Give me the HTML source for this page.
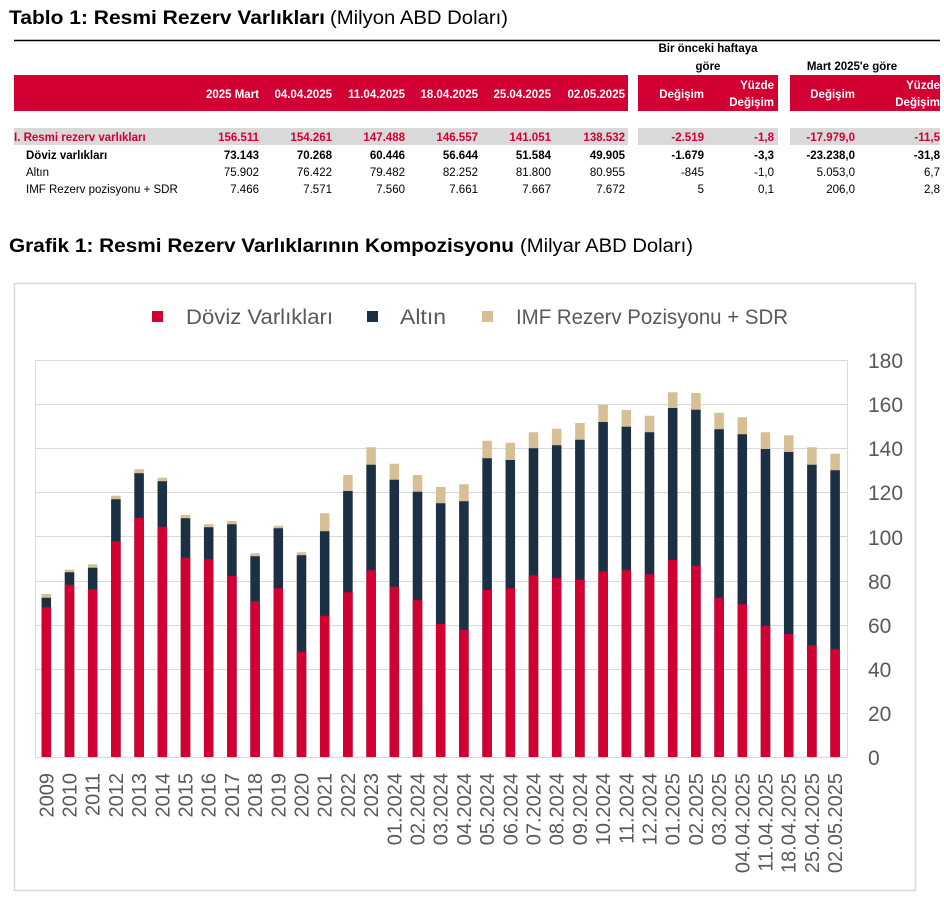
<!DOCTYPE html>
<html><head><meta charset="utf-8"><style>
html,body{margin:0;padding:0;background:#fff;}
svg{display:block;font-family:"Liberation Sans",sans-serif;}
</style></head><body>
<svg width="944" height="902" viewBox="0 0 944 902" xmlns="http://www.w3.org/2000/svg">
<text x="9" y="24" font-size="19" font-weight="bold" fill="#000" textLength="316" lengthAdjust="spacingAndGlyphs">Tablo 1: Resmi Rezerv Varlıkları</text>
<text x="330" y="24" font-size="19" fill="#000" textLength="178" lengthAdjust="spacingAndGlyphs">(Milyon ABD Doları)</text>
<line x1="14" y1="40.5" x2="940" y2="40.5" stroke="#000" stroke-width="1.5"/>
<g font-size="11.5" font-weight="bold" fill="#000" text-anchor="middle">
<text x="708" y="52">Bir önceki haftaya</text>
<text x="708" y="70">göre</text>
<text x="852" y="70">Mart 2025'e göre</text>
</g>
<rect x="14" y="75" width="614" height="36" fill="#D20032"/>
<rect x="638" y="75" width="140" height="36" fill="#D20032"/>
<rect x="790" y="75" width="150" height="36" fill="#D20032"/>
<g font-size="11.5" font-weight="bold" fill="#fff" text-anchor="end">
<text x="259" y="98">2025 Mart</text>
<text x="332" y="98">04.04.2025</text>
<text x="405" y="98">11.04.2025</text>
<text x="478" y="98">18.04.2025</text>
<text x="551" y="98">25.04.2025</text>
<text x="625" y="98">02.05.2025</text>
<text x="704" y="98">Değişim</text>
<text x="774" y="89">Yüzde</text>
<text x="774" y="106">Değişim</text>
<text x="855" y="98">Değişim</text>
<text x="940" y="89">Yüzde</text>
<text x="940" y="106">Değişim</text>
</g>
<rect x="14" y="128" width="614" height="17" fill="#D9D9D9"/>
<rect x="638" y="128" width="140" height="17" fill="#D9D9D9"/>
<rect x="790" y="128" width="150" height="17" fill="#D9D9D9"/>
<g font-size="11.5" text-anchor="end">
<g fill="#D20032" font-weight="bold">
<text x="14" y="141" text-anchor="start">I. Resmi rezerv varlıkları</text>
<text x="259" y="141">156.511</text><text x="332" y="141">154.261</text><text x="405" y="141">147.488</text><text x="478" y="141">146.557</text><text x="551" y="141">141.051</text><text x="625" y="141">138.532</text><text x="704" y="141">-2.519</text><text x="774" y="141">-1,8</text><text x="855" y="141">-17.979,0</text><text x="940" y="141">-11,5</text>
</g>
<g fill="#000" font-weight="bold">
<text x="26" y="159" text-anchor="start">Döviz varlıkları</text>
<text x="259" y="159">73.143</text><text x="332" y="159">70.268</text><text x="405" y="159">60.446</text><text x="478" y="159">56.644</text><text x="551" y="159">51.584</text><text x="625" y="159">49.905</text><text x="704" y="159">-1.679</text><text x="774" y="159">-3,3</text><text x="855" y="159">-23.238,0</text><text x="940" y="159">-31,8</text>
</g>
<g fill="#000">
<text x="26" y="176" text-anchor="start">Altın</text>
<text x="259" y="176">75.902</text><text x="332" y="176">76.422</text><text x="405" y="176">79.482</text><text x="478" y="176">82.252</text><text x="551" y="176">81.800</text><text x="625" y="176">80.955</text><text x="704" y="176">-845</text><text x="774" y="176">-1,0</text><text x="855" y="176">5.053,0</text><text x="940" y="176">6,7</text>
<text x="26" y="193" text-anchor="start">IMF Rezerv pozisyonu + SDR</text>
<text x="259" y="193">7.466</text><text x="332" y="193">7.571</text><text x="405" y="193">7.560</text><text x="478" y="193">7.661</text><text x="551" y="193">7.667</text><text x="625" y="193">7.672</text><text x="704" y="193">5</text><text x="774" y="193">0,1</text><text x="855" y="193">206,0</text><text x="940" y="193">2,8</text>
</g>
</g>
<text x="9" y="252" font-size="19" font-weight="bold" fill="#000" textLength="505" lengthAdjust="spacingAndGlyphs">Grafik 1: Resmi Rezerv Varlıklarının Kompozisyonu</text>
<text x="520" y="252" font-size="19" fill="#000" textLength="173" lengthAdjust="spacingAndGlyphs">(Milyar ABD Doları)</text>
<rect x="14.5" y="283.5" width="901" height="607" fill="#fff" stroke="#D9D9D9" stroke-width="1.5"/>
<rect x="152" y="311" width="11" height="11" fill="#D20032"/>
<text x="186" y="324" font-size="21" fill="#595959" textLength="147" lengthAdjust="spacingAndGlyphs">Döviz Varlıkları</text>
<rect x="367" y="311" width="11" height="11" fill="#1B2F45"/>
<text x="400" y="324" font-size="21" fill="#595959" textLength="46" lengthAdjust="spacingAndGlyphs">Altın</text>
<rect x="482" y="311" width="11" height="11" fill="#D6BE95"/>
<text x="516" y="324" font-size="21" fill="#595959" textLength="272" lengthAdjust="spacingAndGlyphs">IMF Rezerv Pozisyonu + SDR</text>
<g stroke="#D9D9D9" stroke-width="1">
<line x1="35" y1="360.5" x2="847" y2="360.5"/>
<line x1="35" y1="404.5" x2="847" y2="404.5"/>
<line x1="35" y1="448.5" x2="847" y2="448.5"/>
<line x1="35" y1="492.5" x2="847" y2="492.5"/>
<line x1="35" y1="536.5" x2="847" y2="536.5"/>
<line x1="35" y1="581.5" x2="847" y2="581.5"/>
<line x1="35" y1="625.5" x2="847" y2="625.5"/>
<line x1="35" y1="669.5" x2="847" y2="669.5"/>
<line x1="35" y1="713.5" x2="847" y2="713.5"/>
<line x1="35" y1="757.5" x2="847" y2="757.5"/>
<line x1="35.5" y1="360" x2="35.5" y2="757"/>
<line x1="847.5" y1="360" x2="847.5" y2="757"/>
</g>
<g font-size="21" fill="#595959">
<text x="868" y="368">180</text><text x="868" y="412">160</text><text x="868" y="456">140</text><text x="868" y="500">120</text><text x="868" y="545">100</text>
<text x="868" y="589">80</text><text x="868" y="633">60</text><text x="868" y="677">40</text><text x="868" y="721">20</text><text x="868" y="765">0</text>
</g>
<g fill="none" stroke-width="9.5">
<path stroke="#D6BE95" d="M46.3 757V594M69.5 757V569.7M92.7 757V564.3M115.9 757V495.7M139.1 757V469.3M162.3 757V477.7M185.5 757V515M208.7 757V524.3M231.9 757V521M255.1 757V553.3M278.3 757V525.7M301.5 757V552.3M324.7 757V513.3M347.9 757V475M371.1 757V447.3M394.3 757V463.7M417.5 757V475M440.7 757V487M463.9 757V484.3M487.1 757V440.7M510.3 757V442.7M533.5 757V432.3M556.7 757V428.7M579.9 757V423M603.1 757V405M626.3 757V410M649.5 757V415.7M672.7 757V392.3M695.9 757V393M719.1 757V412.7M742.3 757V417.3M765.5 757V432.3M788.7 757V435.3M811.9 757V447.3M835.1 757V453.7"/>
<path stroke="#1B2F45" d="M46.3 757V597.7M69.5 757V572.3M92.7 757V567.7M115.9 757V499.3M139.1 757V473.3M162.3 757V481.3M185.5 757V518.3M208.7 757V527.3M231.9 757V524.3M255.1 757V556.3M278.3 757V528.3M301.5 757V555.3M324.7 757V531.3M347.9 757V491M371.1 757V464.7M394.3 757V479.7M417.5 757V491.7M440.7 757V503.3M463.9 757V501.3M487.1 757V458.3M510.3 757V460M533.5 757V448.3M556.7 757V445.3M579.9 757V439.7M603.1 757V422M626.3 757V426.7M649.5 757V432.3M672.7 757V408M695.9 757V409.7M719.1 757V429.3M742.3 757V434.3M765.5 757V449M788.7 757V452M811.9 757V464.7M835.1 757V470.3"/>
<path stroke="#D20032" d="M46.3 757V607.3M69.5 757V584.7M92.7 757V589.3M115.9 757V541.3M139.1 757V518M162.3 757V526.7M185.5 757V557.7M208.7 757V559.3M231.9 757V576M255.1 757V601.3M278.3 757V588.3M301.5 757V651.7M324.7 757V615.7M347.9 757V592.3M371.1 757V570.3M394.3 757V586.7M417.5 757V600.3M440.7 757V624M463.9 757V629.7M487.1 757V590M510.3 757V588.3M533.5 757V575.3M556.7 757V578M579.9 757V579.7M603.1 757V571.3M626.3 757V570.3M649.5 757V574.3M672.7 757V560M695.9 757V565.7M719.1 757V597.7M742.3 757V604.3M765.5 757V625.7M788.7 757V634M811.9 757V645.3M835.1 757V649.3"/>
</g>
<g font-size="20" fill="#595959" text-anchor="end">
<text transform="translate(53.3,773) rotate(-90)">2009</text>
<text transform="translate(76.5,773) rotate(-90)">2010</text>
<text transform="translate(99.7,773) rotate(-90)">2011</text>
<text transform="translate(122.9,773) rotate(-90)">2012</text>
<text transform="translate(146.1,773) rotate(-90)">2013</text>
<text transform="translate(169.3,773) rotate(-90)">2014</text>
<text transform="translate(192.5,773) rotate(-90)">2015</text>
<text transform="translate(215.7,773) rotate(-90)">2016</text>
<text transform="translate(238.9,773) rotate(-90)">2017</text>
<text transform="translate(262.1,773) rotate(-90)">2018</text>
<text transform="translate(285.3,773) rotate(-90)">2019</text>
<text transform="translate(308.5,773) rotate(-90)">2020</text>
<text transform="translate(331.7,773) rotate(-90)">2021</text>
<text transform="translate(354.9,773) rotate(-90)">2022</text>
<text transform="translate(378.1,773) rotate(-90)">2023</text>
<text transform="translate(401.3,773) rotate(-90)">01.2024</text>
<text transform="translate(424.5,773) rotate(-90)">02.2024</text>
<text transform="translate(447.7,773) rotate(-90)">03.2024</text>
<text transform="translate(470.9,773) rotate(-90)">04.2024</text>
<text transform="translate(494.1,773) rotate(-90)">05.2024</text>
<text transform="translate(517.3,773) rotate(-90)">06.2024</text>
<text transform="translate(540.5,773) rotate(-90)">07.2024</text>
<text transform="translate(563.7,773) rotate(-90)">08.2024</text>
<text transform="translate(586.9,773) rotate(-90)">09.2024</text>
<text transform="translate(610.1,773) rotate(-90)">10.2024</text>
<text transform="translate(633.3,773) rotate(-90)">11.2024</text>
<text transform="translate(656.5,773) rotate(-90)">12.2024</text>
<text transform="translate(679.7,773) rotate(-90)">01.2025</text>
<text transform="translate(702.9,773) rotate(-90)">02.2025</text>
<text transform="translate(726.1,773) rotate(-90)">03.2025</text>
<text transform="translate(749.3,773) rotate(-90)">04.04.2025</text>
<text transform="translate(772.5,773) rotate(-90)">11.04.2025</text>
<text transform="translate(795.7,773) rotate(-90)">18.04.2025</text>
<text transform="translate(818.9,773) rotate(-90)">25.04.2025</text>
<text transform="translate(842.1,773) rotate(-90)">02.05.2025</text>
</g>
</svg>
</body></html>
